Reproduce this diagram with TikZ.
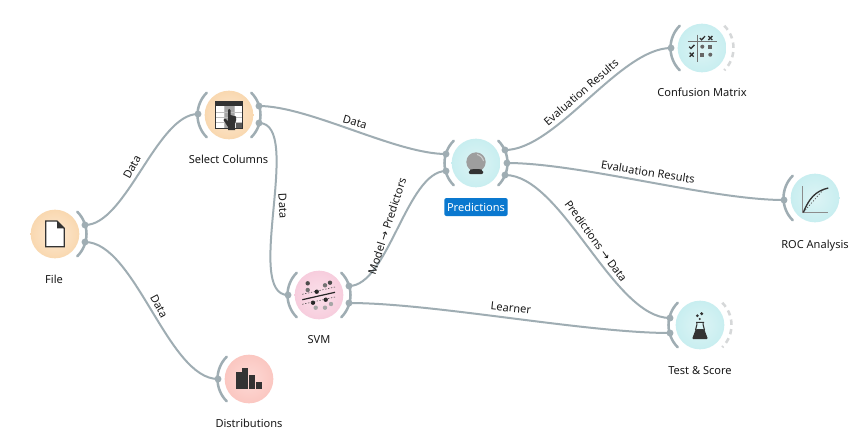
\documentclass[tikz,border=0pt]{standalone}
\usepackage{fontspec}
\setmainfont{Noto Sans}
\newfontfamily\arrowfont{DejaVu Sans}
\definecolor{chancol}{HTML}{9FADB3}
\definecolor{ghostcol}{HTML}{D6D8D9}
\definecolor{inkcol}{HTML}{333333}
\definecolor{orangeA}{HTML}{FDE9D2}
\definecolor{orangeB}{HTML}{F9D8B0}
\definecolor{tealA}{HTML}{DDF4F5}
\definecolor{tealB}{HTML}{C8EEF0}
\definecolor{pinkA}{HTML}{FBE0EA}
\definecolor{pinkB}{HTML}{F7CDDD}
\definecolor{redA}{HTML}{FDDAD6}
\definecolor{redB}{HTML}{FBC7C1}
\definecolor{selblue}{HTML}{0A78CF}
\tikzset{
  x=0.75pt,y=-0.75pt,
  chan/.style={draw=chancol,line width=1.9pt,line cap=round},
  ghost/.style={draw=ghostcol,line width=1.9pt,dash pattern=on 4pt off 3.2pt},
  wire/.style={draw=chancol,line width=1.5pt},
  anchordot/.style={circle,fill=chancol,inner sep=0pt,minimum size=5.2pt},
  widget/.style={circle,inner sep=0pt,minimum size=36.5pt},
  orangew/.style={widget,inner color=orangeA,outer color=orangeB},
  tealw/.style={widget,inner color=tealA,outer color=tealB},
  pinkw/.style={widget,inner color=pinkA,outer color=pinkB},
  redw/.style={widget,inner color=redA,outer color=redB},
  wtitle/.style={font=\fontsize{8.3pt}{10pt}\selectfont,text=black!90,inner sep=0pt},
  lab/.style={font=\fontsize{8.3pt}{10pt}\selectfont,text=black!90,inner sep=0pt},
}
\newcommand{\leftarc}[1]{\draw[chan] (#1) ++(135:31.5) arc[start angle=135,end angle=225,radius=31.5];}
\newcommand{\rightarc}[1]{\draw[chan] (#1) ++(-45:31.5) arc[start angle=-45,end angle=45,radius=31.5];}
\newcommand{\ghostarc}[1]{\draw[ghost] (#1) ++(-45:31.5) arc[start angle=-45,end angle=45,radius=31.5];}
\begin{document}
\begin{tikzpicture}
\useasboundingbox (0,0) rectangle (854,444);
\fill[white] (0,0) rectangle (854,444);

% widgets
\node[orangew] (file) at (55,234) {};
\node[orangew] (sel) at (229,115) {};
\node[tealw] (pred) at (476,163) {};
\node[pinkw] (svm) at (319,295) {};
\node[tealw] (conf) at (702,48) {};
\node[tealw] (roc) at (815,198) {};
\node[tealw] (test) at (700,325) {};
\node[redw] (dist) at (249,379) {};

% channel arcs
\rightarc{file.center}
\leftarc{sel.center}\rightarc{sel.center}
\leftarc{pred.center}\rightarc{pred.center}
\leftarc{svm.center}\rightarc{svm.center}
\leftarc{conf.center}\ghostarc{conf.center}
\leftarc{roc.center}
\leftarc{test.center}\ghostarc{test.center}
\leftarc{dist.center}

% anchors
\coordinate (fileA) at (85,225); \coordinate (fileB) at (85,242);
\coordinate (selI) at (198,114); \coordinate (selA) at (259,106); \coordinate (selB) at (259,123);
\coordinate (predI) at (446,154); \coordinate (predJ) at (446,171);
\coordinate (predA) at (505,150); \coordinate (predB) at (507,163); \coordinate (predC) at (505,175);
\coordinate (svmI) at (288,295); \coordinate (svmA) at (349,286); \coordinate (svmB) at (349,303);
\coordinate (confI) at (671,48);
\coordinate (rocI) at (784,200);
\coordinate (testI) at (670,318); \coordinate (testJ) at (670,333);
\coordinate (distI) at (218,379);

% connectors
\draw[wire] (fileA) .. controls +(41,0) and +(-41,0) .. (selI);
\draw[wire] (fileB) .. controls +(50,0) and +(-50,0) .. (distI);
\draw[wire] (selA) .. controls +(50,0) and +(-50,0) .. (predI);
\draw[wire] (selB) .. controls +(45,0) and +(-45,0) .. (svmI);
\draw[wire] (svmA) .. controls +(39,0) and +(-39,0) .. (predJ);
\draw[wire] (svmB) .. controls +(84,0) and +(-84,0) .. (testJ);
\draw[wire] (predA) .. controls +(51,0) and +(-51,0) .. (confI);
\draw[wire] (predB) .. controls +(73,0) and +(-73,0) .. (rocI);
\draw[wire] (predC) .. controls +(57,0) and +(-57,0) .. (testI);

\foreach \c in {fileA,fileB,selI,selA,selB,predI,predJ,predA,predB,predC,svmI,svmA,svmB,confI,rocI,testI,testJ,distI}
  \node[anchordot] (d\c) at (\c) {};

% titles
\node[wtitle] (tfile) at (54,279) {File};
\node[wtitle] (tsel) at (228.5,159) {Select Columns};
\node[wtitle,fill=selblue,text=white,rounded corners=1.6pt,minimum width=47.5pt,minimum height=13.5pt] (tpred) at (476,207) {Predictions};
\node[wtitle] (tsvm) at (319,340) {SVM};
\node[wtitle] (tdist) at (249,423) {Distributions};
\node[wtitle] (tconf) at (702,92) {Confusion Matrix};
\node[wtitle] (troc) at (815,246) {ROC Analysis};
\node[wtitle] (ttest) at (700,371) {Test \& Score};

% link labels
\node[lab,rotate=62] (l1) at (132,167) {Data};
\node[lab,rotate=-62] (l2) at (159,306) {Data};
\node[lab,rotate=-16] (l3) at (355,122) {Data};
\node[lab,rotate=-87] (l4) at (283,206) {Data};
\node[lab,rotate=72] (l5) at (387,226) {Model {\arrowfont →} Predictors};
\node[lab,rotate=-6] (l6) at (511,308) {Learner};
\node[lab,rotate=41] (l7) at (581,92) {Evaluation Results};
\node[lab,rotate=-9] (l8) at (648,172) {Evaluation Results};
\node[lab,rotate=-54] (l9) at (596,241) {Predictions {\arrowfont →} Data};

% file icon
\begin{scope}[shift={(file.center)}]
  \draw[draw=inkcol,line width=0.9pt,fill=white,line join=miter] (-9.3,-13) -- (2,-13) -- (9.3,-5.7) -- (9.3,12.7) -- (-9.3,12.7) -- cycle;
  \fill[inkcol] (2,-13) -- (9.3,-5.7) -- (2,-5.7) -- cycle;
\end{scope}

% select columns icon
\begin{scope}[shift={(sel.center)}]
  \fill[white] (-13.3,-13.3) rectangle (13.3,13.3);
  \fill[black!35] (-4.5,-9) rectangle (4.5,13.3);
  \fill[black!65] (7,7) rectangle (13.3,13.3);
  \draw[black!25,line width=0.4pt] (-13.3,-2.5) -- (13.3,-2.5) (-13.3,2.5) -- (13.3,2.5) (-13.3,7.5) -- (13.3,7.5) (-5,-9) -- (-5,13) (5,-9) -- (5,13);
  \fill[inkcol] (-13.3,-13.3) rectangle (13.3,-8.7);
  \draw[inkcol,line width=0.9pt] (-13.3,-13.3) rectangle (13.3,13.3);
  \fill[inkcol] (-1,1) -- (-1,-5) .. controls (-1,-6.5) and (1.5,-6.5) .. (1.5,-5) -- (1.5,0) -- (7,1.5) .. controls (7.5,3) and (7.5,6) .. (6,9) -- (6,15) -- (-1,15) -- (-1,12) -- (-5.5,5) .. controls (-5.5,3) and (-3.5,3) .. (-1,6) -- cycle;
\end{scope}

% crystal ball icon
\begin{scope}[shift={(pred.center)}]
  \fill[black!38] (0,-1) circle[radius=9.7];
  \draw[white!80!black,line width=0.8pt] (1,-8.5) .. controls (4,-8) and (7,-5) .. (7.5,-2);
  \fill[inkcol,rounded corners=1.5pt] (-7.5,11) -- (-7,7) -- (-4,6) -- (4,6) -- (7,7) -- (7.5,11) -- cycle;
\end{scope}

% svm icon
\begin{scope}[shift={(svm.center)}]
  \foreach \x/\y/\s in {-11.3/-11.7/70,-11.3/-5/55,-2.3/-3.3/85,6/-9.7/55,11/-12.3/70,-6/7.7/85,6.7/4.7/85,-3.3/12.7/35,6/12.7/35,12/9/35}
    \fill[black!\s] (\x,\y) circle[radius=2.2];
  \draw[black!85,line width=0.9pt] (-16.7,4.7) -- (16,-2.7);
  \draw[black!70,line width=0.45pt,dash pattern=on 1pt off 1.2pt] (-16.7,-0.7) -- (16,-8);
  \draw[black!70,line width=0.45pt,dash pattern=on 1pt off 1.2pt] (-16.7,9.3) -- (16,2);
\end{scope}

% confusion matrix icon
\begin{scope}[shift={(conf.center)}]
  \draw[black!55,line width=0.55pt] (-14.3,-6.3) -- (15,-6.3) (-4.7,-13.3) -- (-4.7,13.7);
  \foreach \x/\y in {0.3/-10,-10.3/-1.3}
    \draw[inkcol,line width=1pt] (\x-2.5,\y) -- (\x-0.7,\y+1.8) -- (\x+2.7,\y-1.8);
  \foreach \x/\y in {8.3/-10,-10.3/6.7}
    \draw[inkcol,line width=1pt] (\x-2,\y-2) -- (\x+2,\y+2) (\x-2,\y+2) -- (\x+2,\y-2);
  \fill[black!60] (0.3,-1.3) circle[radius=2];
  \fill[black!60] (8.3,6.7) circle[radius=2];
  \fill[black!60] (6.3,-3.3) rectangle (10.3,0.7);
  \fill[black!60] (-1.7,4.7) rectangle (2.3,8.7);
\end{scope}

% ROC icon
\begin{scope}[shift={(roc.center)}]
  \draw[black!45,line width=0.5pt] (-12.7,-11.7) -- (-12.7,14.3) -- (13.3,14.3);
  \draw[black!65,line width=0.5pt,dash pattern=on 1pt off 1.2pt] (-11.7,14.3) -- (8.3,-8.3);
  \draw[inkcol,line width=1pt] (-11.7,14.3) .. controls (-6,1) and (0,-7) .. (13.3,-10);
\end{scope}

% flask icon
\begin{scope}[shift={(test.center)}]
  \fill[inkcol] (1.7,-11.3) circle[radius=1.7];
  \fill[inkcol] (-2.7,-9.3) circle[radius=1.5];
  \fill[inkcol] (-0.3,-6) circle[radius=1.1];
  \fill[inkcol,rounded corners=0.8pt] (-4.2,4) -- (4.2,4) -- (7.9,14) -- (-7.9,14) -- cycle;
  \draw[inkcol,line width=0.8pt] (-3.2,-2.7) -- (-3.2,0) -- (-4.5,5) (3.2,-2.7) -- (3.2,0) -- (4.5,5) (-4,-2.7) -- (4,-2.7);
\end{scope}

% distributions icon
\begin{scope}[shift={(dist.center)}]
  \fill[inkcol] (-13.3,-6.7) rectangle (-7.3,10);
  \fill[inkcol] (-6.7,-10.7) rectangle (-0.7,10);
  \fill[inkcol] (0.3,-4) rectangle (6.3,10);
  \fill[inkcol] (7,2.7) rectangle (13,10);
\end{scope}
\end{tikzpicture}
\end{document}
